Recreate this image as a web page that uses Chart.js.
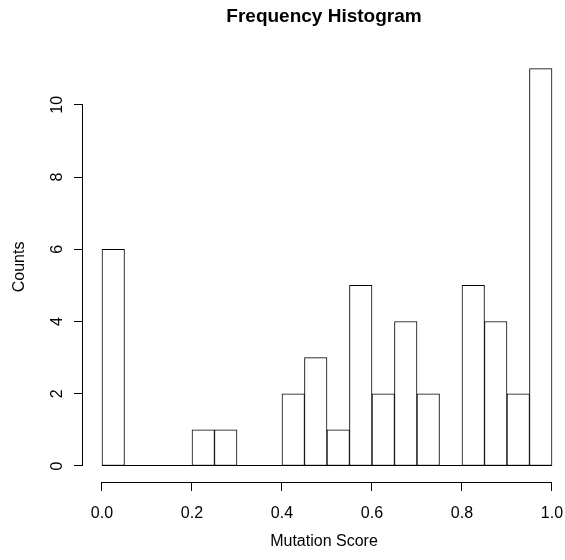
<!DOCTYPE html>
<html>
<head>
<meta charset="utf-8">
<script src="https://cdn.jsdelivr.net/npm/chart.js@4.4.1/dist/chart.umd.min.js"></script>
<style>
  html, body { margin: 0; padding: 0; background: #fff; }
  canvas { display: block; }
</style>
</head>
<body>
<canvas id="myChart" width="565" height="560"></canvas>
<script>
const binStarts = [0.00, 0.05, 0.10, 0.15, 0.20, 0.25, 0.30, 0.35, 0.40, 0.45,
                   0.50, 0.55, 0.60, 0.65, 0.70, 0.75, 0.80, 0.85, 0.90, 0.95];
const counts = [6, 0, 0, 0, 1, 1, 0, 0, 2, 3, 1, 5, 2, 4, 2, 0, 5, 4, 2, 11];
const binWidth = 0.05;
const xTickValues = [0.0, 0.2, 0.4, 0.6, 0.8, 1.0];
const yTickValues = [0, 2, 4, 6, 8, 10];

Chart.defaults.font.family = "'Liberation Sans', Arial, sans-serif";
Chart.defaults.font.size = 16;
Chart.defaults.color = "#000";

// axis lines drawn like R: only across the tick range, detached from the plot
const rAxes = {
    id: "rAxes",
    afterDraw(chart) {
        const { ctx, chartArea } = chart;
        const xs = chart.scales.x;
        const ys = chart.scales.y;
        ctx.save();
        ctx.strokeStyle = "#000";
        ctx.lineWidth = 1;
        ctx.beginPath();
        const xa = chartArea.bottom + 0.5;
        ctx.moveTo(xs.getPixelForValue(xTickValues[0]), xa);
        ctx.lineTo(xs.getPixelForValue(xTickValues[xTickValues.length - 1]), xa);
        const ya = chartArea.left - 0.5;
        ctx.moveTo(ya, ys.getPixelForValue(yTickValues[0]));
        ctx.lineTo(ya, ys.getPixelForValue(yTickValues[yTickValues.length - 1]));
        // bar baseline
        const base = Math.round(ys.getPixelForValue(0)) - 0.5;
        ctx.moveTo(xs.getPixelForValue(binStarts[0]), base);
        ctx.lineTo(xs.getPixelForValue(binStarts[binStarts.length - 1] + binWidth), base);
        ctx.stroke();
        ctx.restore();
    },
};

const data = {
    datasets: [
        {
            label: "Counts",
            data: binStarts.map((s, i) => ({ x: s + binWidth / 2, y: counts[i] })),
            backgroundColor: "#fff",
            borderColor: "#000",
            borderWidth: 1,
            borderSkipped: false,
            barPercentage: 1,
            categoryPercentage: 1,
        },
    ],
};

const config = {
    type: "bar",
    data: data,
    options: {
        responsive: false,
        animation: false,
        layout: { padding: 0 },
        plugins: {
            legend: { display: false },
            tooltip: { enabled: false },
            title: {
                display: true,
                text: "Frequency Histogram",
                fullSize: false,
                font: { size: 19, weight: "bold" },
                padding: { top: 5, bottom: 24 },
            },
        },
        scales: {
            x: {
                type: "linear",
                offset: false,
                min: -0.0422,
                max: 1.0289,
                afterFit(scale) {
                    scale.height = 78;
                    scale.paddingLeft = 0;
                    scale.paddingRight = 0;
                },
                afterBuildTicks(scale) {
                    scale.ticks = xTickValues.map(v => ({ value: v }));
                },
                grid: {
                    offset: false,
                    drawOnChartArea: false,
                    tickLength: 9,
                    color: "#000",
                },
                border: { display: false },
                ticks: {
                    padding: 13,
                    maxRotation: 0,
                    callback: v => v.toFixed(1),
                },
                title: {
                    display: true,
                    text: "Mutation Score",
                    padding: { top: 0, bottom: 9 },
                },
            },
            y: {
                type: "linear",
                min: -0.443,
                max: 11.468,
                afterFit(scale) {
                    scale.width = 83;
                    scale.paddingTop = 0;
                    scale.paddingBottom = 0;
                },
                afterBuildTicks(scale) {
                    scale.ticks = yTickValues.map(v => ({ value: v }));
                },
                grid: {
                    drawOnChartArea: false,
                    tickLength: 9,
                    color: "#000",
                },
                border: { display: false },
                ticks: {
                    padding: 8,
                    minRotation: 90,
                    maxRotation: 90,
                    crossAlign: "center",
                },
                title: {
                    display: true,
                    text: "Counts",
                    padding: { top: 10, bottom: 0 },
                },
            },
        },
    },
    plugins: [rAxes],
};

const ctx = document.getElementById("myChart").getContext("2d");
const myChart = new Chart(ctx, config);
</script>
</body>
</html>
